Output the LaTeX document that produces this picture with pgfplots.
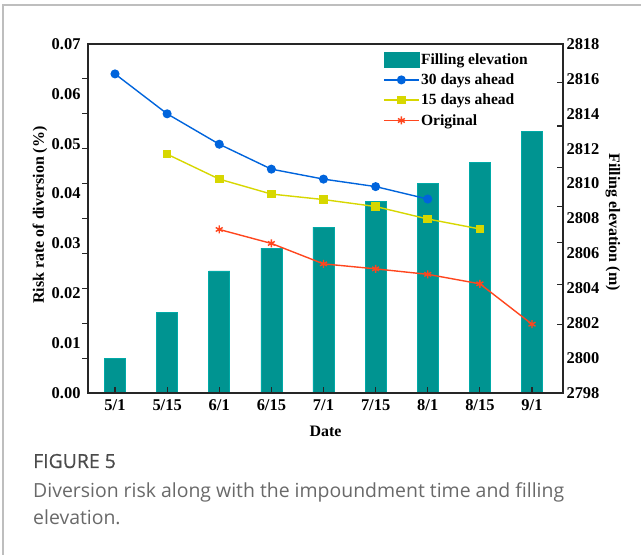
\documentclass[border=0pt]{standalone}
\usepackage{pgfplots}
\pgfplotsset{compat=1.18}
\usepackage{fontspec}
\setmainfont{Liberation Serif}
\newfontfamily\capfont{Open Sans}
\newfontfamily\capboldfont[FakeBold=0.6]{Open Sans}
\definecolor{barcol}{RGB}{0,148,145}
\definecolor{bluec}{RGB}{0,100,220}
\definecolor{yelc}{RGB}{215,215,0}
\definecolor{redc}{RGB}{255,70,30}
\definecolor{framegray}{RGB}{190,190,190}
\definecolor{capdark}{RGB}{75,75,75}
\definecolor{captext}{RGB}{105,105,105}
\pgfplotsset{
  common/.style={
    at={(88bp,162bp)}, anchor=south west, scale only axis,
    width=475bp, height=349bp,
    xmin=-0.518, xmax=8.595,
    axis line style={line width=1.2bp, color=black!85},
    every tick/.style={line width=1.1bp, color=black!85},
    major tick length=0pt,
    scaled ticks=false,
    /pgf/number format/assume math mode=true,
    ticklabel style={font=\bfseries\fontsize{16.5}{19}\selectfont},
    label style={font=\bfseries\fontsize{16}{19}\selectfont},
  },
  tickonly/.style={
    at={(88bp,162bp)}, anchor=south west, scale only axis,
    width=475bp, height=349bp,
    xmin=-0.518, xmax=8.595,
    axis line style={draw=none},
    every tick/.style={line width=1.1bp, color=black!85},
    major tick length=6bp,
    scaled ticks=false,
    xticklabels={}, yticklabels={},
  }
}
\begin{document}
\begin{tikzpicture}
\useasboundingbox (0,0) rectangle (641bp,555bp);
\draw[line width=1.2bp, color=framegray] (3bp,0bp) -- (3bp,550bp) -- (641bp,550bp);

\begin{axis}[common,
  ymin=2798, ymax=2818,
  ytick={2798,2800,2802,2804,2806,2808,2810,2812,2814,2816,2818},
  ytick pos=right, yticklabel pos=right,
  yticklabel style={/pgf/number format/1000 sep={}},
  xtick={0,1,2,3,4,5,6,7,8},
  xticklabels={5/1,5/15,6/1,6/15,7/1,7/15,8/1,8/15,9/1},
  xtick pos=bottom,
  xticklabel style={yshift=-3bp},
  xlabel={Date},
  xlabel style={at={(axis description cs:0.5,-0.109)}, anchor=center},
  ylabel={Filling elevation (m)},
  ylabel style={at={(axis description cs:1.105,0.49)}, anchor=center, rotate=180},
]
\addplot[ybar, bar width=21bp, bar shift=0pt, fill=barcol, draw=barcol!80!cyan, line width=0.6bp]
  coordinates {(0,2800.0) (1,2802.6) (2,2805.0) (3,2806.3) (4,2807.5) (5,2809.0) (6,2810.0) (7,2811.2) (8,2813.0)};
\end{axis}

% inward tick marks: bottom and right
\begin{axis}[tickonly, tick align=inside,
  ymin=2798, ymax=2818,
  ytick={2801.9,2804.2,2806.6,2808.7,2810.9,2813.3,2815.8},
  ytick pos=right,
  xtick={0,1,2,3,4,5,6,7,8}, xtick pos=bottom,
]
\end{axis}

% outward tick marks: left
\begin{axis}[tickonly, tick align=outside,
  ymin=0, ymax=0.07,
  ytick={0.007,0.014,0.021,0.028,0.035,0.042,0.049,0.056,0.063},
  ytick pos=left,
  xtick=\empty,
]
\end{axis}

\begin{axis}[common,
  ymin=0, ymax=0.07,
  ytick={0,0.01,0.02,0.03,0.04,0.05,0.06,0.07},
  ytick pos=left,
  yticklabel style={/pgf/number format/.cd, fixed, fixed zerofill, precision=2, /tikz/.cd, xshift=-4bp},
  xtick=\empty,
  ylabel={Risk rate of diversion (\%)},
  ylabel style={at={(axis description cs:-0.101,0.51)}, anchor=center},
  legend style={at={(0.621,0.978)}, anchor=north west, draw=none, fill=none,
    font=\bfseries\fontsize{15.6}{18}\selectfont, row sep=5bp, inner sep=0pt,
    nodes={inner sep=1.5bp}},
  legend cell align=left,
  legend image code/.code={\draw[mark repeat=2,mark phase=2] plot coordinates {(0bp,0bp) (17.5bp,0bp) (35bp,0bp)};},
]
\addlegendimage{legend image code/.code={\fill[barcol] (0bp,-7.5bp) rectangle (35bp,7.5bp);}}
\addlegendentry{Filling elevation}
\addplot[color=bluec, line width=1.4bp, mark=*, mark size=3.8bp, mark options={fill=bluec}]
  coordinates {(0,0.0640) (1,0.0560) (2,0.0499) (3,0.0449) (4,0.0429) (5,0.0414) (6,0.0389)};
\addlegendentry{30 days ahead}
\addplot[color=yelc, line width=1.4bp, mark=square*, mark size=3.6bp, mark options={fill=yelc}]
  coordinates {(1,0.0479) (2,0.0429) (3,0.0399) (4,0.0388) (5,0.0374) (6,0.0349) (7,0.0329)};
\addlegendentry{15 days ahead}
\addplot[color=redc, line width=1.4bp, mark=asterisk, mark size=4bp]
  coordinates {(2,0.0328) (3,0.0300) (4,0.0259) (5,0.0249) (6,0.0238) (7,0.0219) (8,0.0138)};
\addlegendentry{Original}
\end{axis}

\node[anchor=base west, inner sep=0pt, text=capdark, font=\capboldfont\fontsize{19.5}{26}\selectfont] at (33bp,87bp) {FIGURE 5};
\node[anchor=base west, inner sep=0pt, text=captext, font=\capfont\fontsize{19.5}{26}\selectfont] at (33bp,57bp) {Diversion risk along with the impoundment time and filling};
\node[anchor=base west, inner sep=0pt, text=captext, font=\capfont\fontsize{19.5}{26}\selectfont] at (33bp,31bp) {elevation.};
\end{tikzpicture}
\end{document}
